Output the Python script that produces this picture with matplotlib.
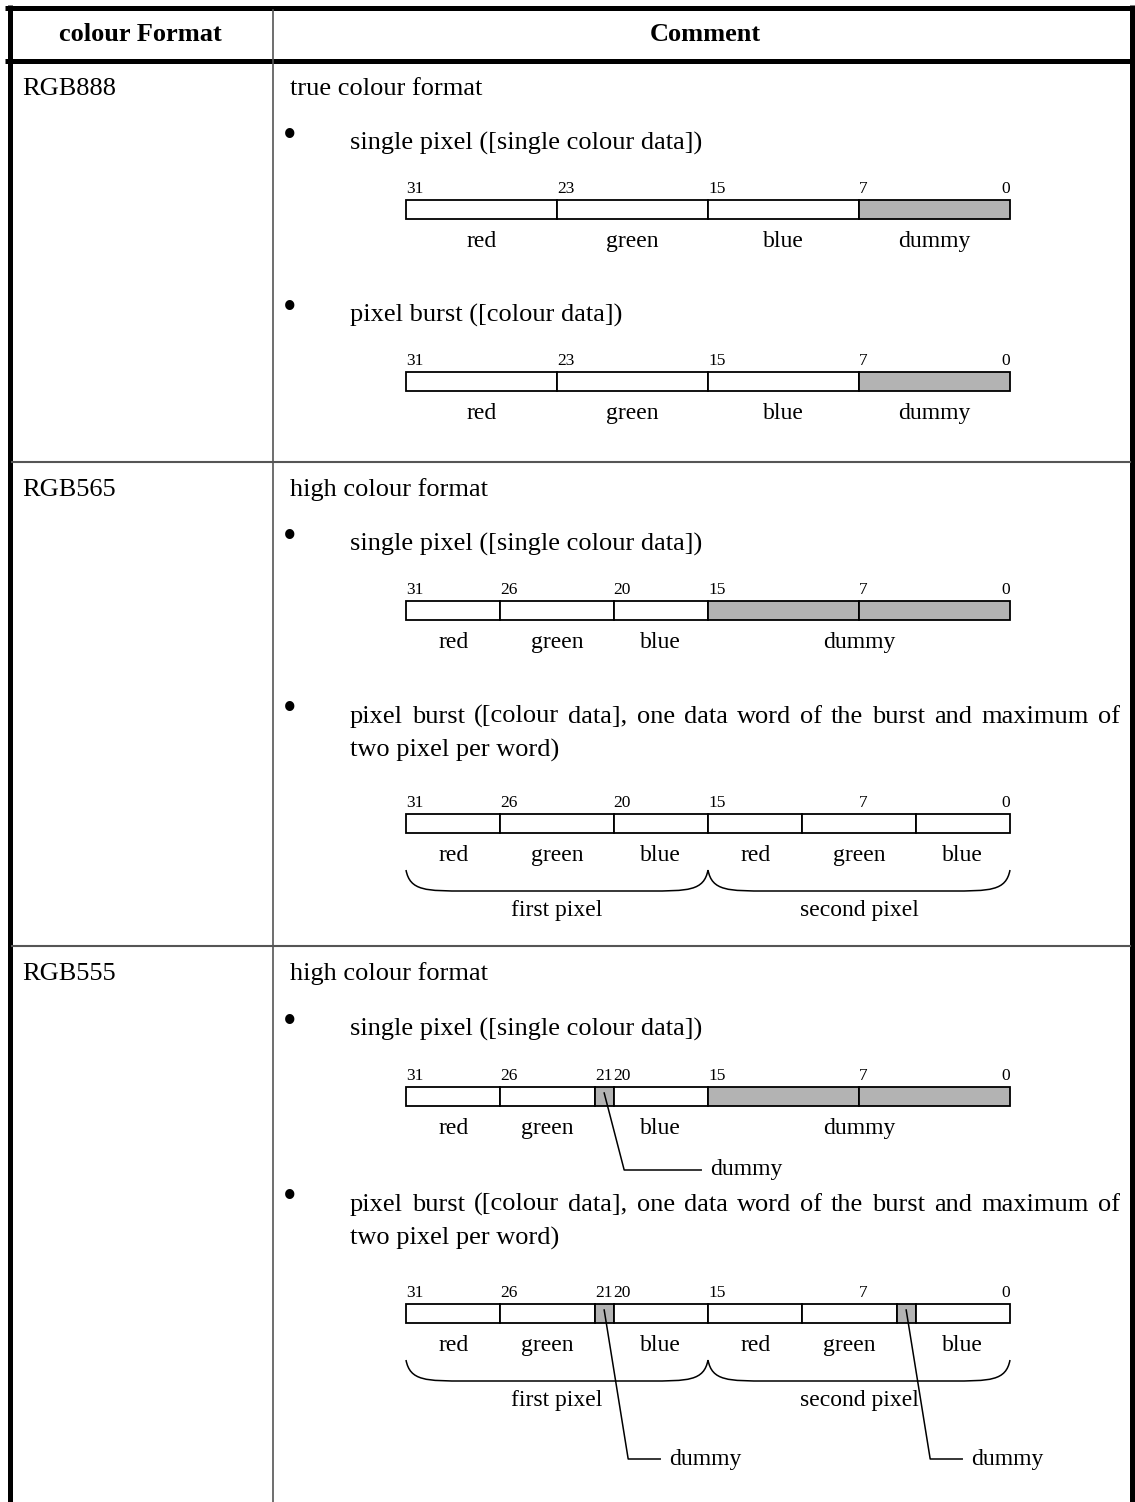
import matplotlib
matplotlib.use("Agg")
import matplotlib.pyplot as plt
from matplotlib.patches import Rectangle, PathPatch
from matplotlib.path import Path

plt.rcParams["font.family"] = ["Liberation Serif", "DejaVu Serif"]

# ---- table text ----
col_titles = ["colour Format", "Comment"]
formats = ["RGB888", "RGB565", "RGB555"]
comments = ["true colour format", "high colour format", "high colour format"]
bullet_single = "single pixel ([single colour data])"
bullet_burst_888 = "pixel burst ([colour data])"
bullet_burst_16 = ["pixel burst ([colour data], one data word of the burst and maximum of",
                   "two pixel per word)"]

# ---- bit layouts: cell msb bits, grey cells, field labels (name, msb, lsb), bit numbers ----
rgb888_cells = [31, 23, 15, 7]
rgb888_grey = [False, False, False, True]
rgb888_fields = [("red", 31, 24), ("green", 23, 16), ("blue", 15, 8), ("dummy", 7, 0)]
rgb888_ticks = [31, 23, 15, 7, 0]

rgb565_single_cells = [31, 26, 20, 15, 7]
rgb565_single_grey = [False, False, False, True, True]
rgb565_single_fields = [("red", 31, 27), ("green", 26, 21), ("blue", 20, 16), ("dummy", 15, 0)]
rgb565_burst_cells = [31, 26, 20, 15, 10, 4]
rgb565_burst_grey = [False, False, False, False, False, False]
rgb565_burst_fields = [("red", 31, 27), ("green", 26, 21), ("blue", 20, 16),
                       ("red", 15, 11), ("green", 10, 5), ("blue", 4, 0)]
rgb565_ticks = [31, 26, 20, 15, 7, 0]

rgb555_single_cells = [31, 26, 21, 20, 15, 7]
rgb555_single_grey = [False, False, True, False, True, True]
rgb555_single_fields = [("red", 31, 27), ("green", 26, 22), ("blue", 20, 16), ("dummy", 15, 0)]
rgb555_single_dummy = [21]
rgb555_burst_cells = [31, 26, 21, 20, 15, 10, 5, 4]
rgb555_burst_grey = [False, False, True, False, False, False, True, False]
rgb555_burst_fields = [("red", 31, 27), ("green", 26, 22), ("blue", 20, 16),
                       ("red", 15, 11), ("green", 10, 6), ("blue", 4, 0)]
rgb555_burst_dummy = [21, 5]
rgb555_ticks = [31, 26, 21, 20, 15, 7, 0]

pixel_groups = [("first pixel", 31, 16), ("second pixel", 15, 0)]

W, H = 1135, 1502
fig = plt.figure(figsize=(W / 100, H / 100), dpi=100)
ax = fig.add_axes([0, 0, 1, 1])
ax.set_xlim(0, W)
ax.set_ylim(H, 0)
ax.axis("off")

X0, X1 = 406, 1010
BW = (X1 - X0) / 32
BAR_H = 19
GREY = "#b3b3b3"
BODY = 19
LAB = 17
TICK = 12.5


def edge(b):
    # left edge of bit b (bit -1 -> right end of word)
    return X0 + (31 - b) * BW


def brace(xa, xb, yt, yb):
    verts = [(xa, yt), (xa + 4, yb), (xa + 20, yb), (xa + 60, yb),
             (xb - 60, yb),
             (xb - 20, yb), (xb - 4, yb), (xb, yt)]
    codes = [Path.MOVETO, Path.CURVE4, Path.CURVE4, Path.CURVE4,
             Path.LINETO,
             Path.CURVE4, Path.CURVE4, Path.CURVE4]
    ax.add_patch(PathPatch(Path(verts, codes), fc="none", ec="black", lw=1.1))


def word(top, cells, grey, fields, ticks, groups=None, dummies=None,
         dummy_drop=83, dummy_dx=20, dummy_run=77):
    for i, msb in enumerate(cells):
        lsb = cells[i + 1] + 1 if i + 1 < len(cells) else 0
        xa, xb = edge(msb), edge(lsb - 1)
        ax.add_patch(Rectangle((xa, top), xb - xa, BAR_H, fc=GREY if grey[i] else "white",
                               ec="black", lw=1.3))
    for t in ticks:
        if t == 0:
            ax.text(edge(-1), top - 7, str(t), ha="right", va="baseline", fontsize=TICK)
        else:
            ax.text(edge(t), top - 7, str(t), ha="left", va="baseline", fontsize=TICK)
    for name, msb, lsb in fields:
        ax.text((edge(msb) + edge(lsb - 1)) / 2, top + 47, name, ha="center", va="baseline",
                fontsize=LAB)
    if groups:
        for name, msb, lsb in groups:
            brace(edge(msb), edge(lsb - 1), top + 56, top + 77)
            ax.text((edge(msb) + edge(lsb - 1)) / 2, top + 102, name, ha="center",
                    va="baseline", fontsize=LAB)
    if dummies:
        for b in dummies:
            xc = (edge(b) + edge(b - 1)) / 2
            yl = top + dummy_drop
            ax.plot([xc, xc + dummy_dx, xc + dummy_dx + dummy_run], [top + 6, yl, yl],
                    color="black", lw=1.1)
            ax.text(xc + dummy_dx + dummy_run + 9, yl, "dummy", ha="left", va="center",
                    fontsize=LAB)


def justified(words, xa, xb, y, **kw):
    r = fig.canvas.get_renderer()
    objs = [ax.text(xa, y, w, va="baseline", **kw) for w in words]
    widths = [o.get_window_extent(r).width for o in objs]
    gap = (xb - xa - sum(widths)) / (len(words) - 1)
    x = xa
    for o, w in zip(objs, widths):
        o.set_x(x)
        x += w + gap


def bullet(y, lines, justify_first=False):
    ax.text(290, y - 3, "\u2022", ha="center", va="baseline", fontsize=28)
    for k, line in enumerate(lines):
        if k == 0 and justify_first:
            justified(line.split(" "), 350, 1120, y, fontsize=BODY)
        else:
            ax.text(350, y + 34 * k, line, ha="left", va="baseline", fontsize=BODY)


# ---- table frame ----
SEP = [462, 946]
ax.plot([5, W], [7.5, 7.5], color="black", lw=3.6, solid_capstyle="butt")
ax.plot([5, W], [60.5, 60.5], color="black", lw=3.6, solid_capstyle="butt")
ax.plot([9.5, 9.5], [5, H], color="black", lw=3.6, solid_capstyle="butt")
ax.plot([1132, 1132], [5, H], color="black", lw=3.6, solid_capstyle="butt")
ax.plot([273, 273], [10, H], color="#555555", lw=1.2)
for s in SEP:
    ax.plot([12, 1130], [s, s], color="#555555", lw=1.5)

ax.text(140, 41, col_titles[0], ha="center", va="baseline", fontsize=BODY, fontweight="bold")
ax.text(705, 41, col_titles[1], ha="center", va="baseline", fontsize=BODY, fontweight="bold")

row_base = [95, 496, 980]
for f, c, y in zip(formats, comments, row_base):
    ax.text(22, y, f, ha="left", va="baseline", fontsize=BODY)
    ax.text(290, y, c, ha="left", va="baseline", fontsize=BODY)

# RGB888
bullet(150, [bullet_single])
word(200, rgb888_cells, rgb888_grey, rgb888_fields, rgb888_ticks)
bullet(322, [bullet_burst_888])
word(372, rgb888_cells, rgb888_grey, rgb888_fields, rgb888_ticks)

# RGB565
bullet(551, [bullet_single])
word(601, rgb565_single_cells, rgb565_single_grey, rgb565_single_fields, rgb565_ticks)
bullet(723, bullet_burst_16, justify_first=True)
word(814, rgb565_burst_cells, rgb565_burst_grey, rgb565_burst_fields, rgb565_ticks,
     groups=pixel_groups)

# RGB555
bullet(1036, [bullet_single])
word(1087, rgb555_single_cells, rgb555_single_grey, rgb555_single_fields, rgb555_ticks,
     dummies=rgb555_single_dummy, dummy_drop=83, dummy_dx=20, dummy_run=77)
bullet(1211, bullet_burst_16, justify_first=True)
word(1304, rgb555_burst_cells, rgb555_burst_grey, rgb555_burst_fields, rgb555_ticks,
     groups=pixel_groups, dummies=rgb555_burst_dummy, dummy_drop=155, dummy_dx=24,
     dummy_run=32)

fig.savefig("out.png", dpi=100)
